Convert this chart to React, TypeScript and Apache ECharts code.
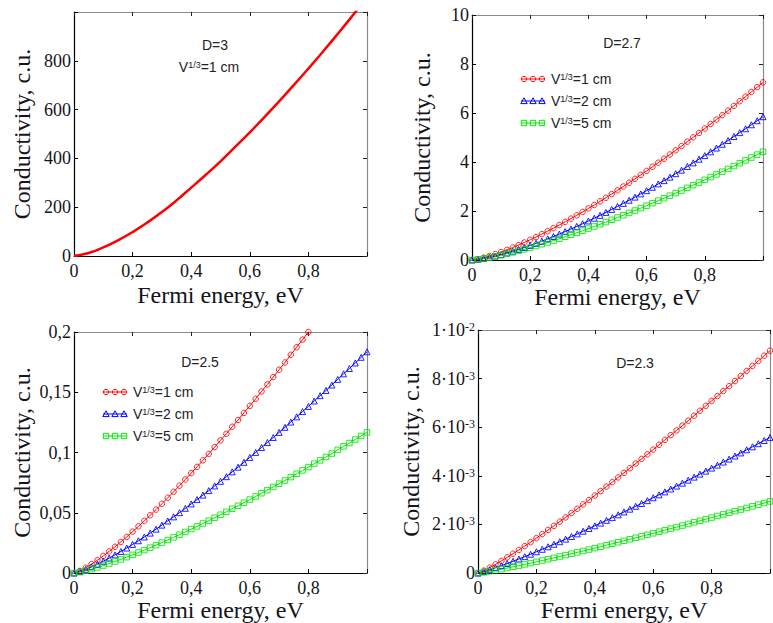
import React, { useEffect, useRef } from 'react';
import * as echarts from 'echarts';

// ---------- data ----------
const ENERGY = [0, 0.02, 0.04, 0.06, 0.08, 0.1, 0.12, 0.14, 0.16, 0.18, 0.2, 0.22, 0.24, 0.26, 0.28, 0.3, 0.32, 0.34, 0.36, 0.38, 0.4, 0.42, 0.44, 0.46, 0.48, 0.5, 0.52, 0.54, 0.56, 0.58, 0.6, 0.62, 0.64, 0.66, 0.68, 0.7, 0.72, 0.74, 0.76, 0.78, 0.8, 0.82, 0.84, 0.86, 0.88, 0.9, 0.92, 0.94, 0.96, 0.98, 1];
const ENERGY_D3 = [0, 0.05, 0.1, 0.15, 0.2, 0.25, 0.3, 0.35, 0.4, 0.45, 0.5, 0.55, 0.6, 0.65, 0.7, 0.75, 0.8, 0.85, 0.9, 0.95, 1];

const D3_V1 = [0, 12, 35, 64, 98, 137, 180, 228, 280, 333, 388, 447, 507, 569, 634, 700, 768, 838, 910, 984, 1060];

const D27_V1 = [0, 0.037, 0.094, 0.163, 0.24, 0.324, 0.414, 0.51, 0.61, 0.716, 0.826, 0.939, 1.056, 1.177, 1.3, 1.428, 1.557, 1.689, 1.824, 1.963, 2.105, 2.246, 2.394, 2.54, 2.691, 2.843, 2.999, 3.155, 3.314, 3.473, 3.637, 3.804, 3.971, 4.133, 4.306, 4.477, 4.651, 4.831, 5.008, 5.186, 5.366, 5.551, 5.732, 5.912, 6.098, 6.29, 6.482, 6.668, 6.86, 7.055, 7.25];
const D27_V2 = [0, 0.023, 0.061, 0.108, 0.162, 0.222, 0.288, 0.359, 0.433, 0.512, 0.596, 0.682, 0.771, 0.864, 0.959, 1.058, 1.161, 1.264, 1.371, 1.48, 1.593, 1.705, 1.823, 1.941, 2.064, 2.187, 2.31, 2.439, 2.566, 2.698, 2.831, 2.967, 3.106, 3.24, 3.382, 3.524, 3.667, 3.817, 3.965, 4.114, 4.261, 4.417, 4.569, 4.723, 4.877, 5.04, 5.199, 5.357, 5.52, 5.686, 5.85];
const D27_V5 = [0, 0.023, 0.057, 0.099, 0.146, 0.197, 0.253, 0.311, 0.372, 0.437, 0.503, 0.572, 0.644, 0.717, 0.792, 0.87, 0.949, 1.03, 1.112, 1.196, 1.283, 1.369, 1.459, 1.548, 1.641, 1.734, 1.828, 1.924, 2.02, 2.117, 2.217, 2.319, 2.421, 2.52, 2.625, 2.729, 2.835, 2.945, 3.053, 3.162, 3.271, 3.384, 3.494, 3.605, 3.718, 3.835, 3.951, 4.065, 4.182, 4.301, 4.42];

const D25_V1 = [0, 0.00185, 0.00445, 0.00745, 0.01074, 0.01425, 0.01798, 0.02185, 0.02587, 0.03004, 0.0344, 0.0388, 0.04334, 0.04796, 0.05268, 0.05754, 0.06245, 0.06744, 0.07248, 0.07766, 0.08294, 0.08817, 0.09353, 0.09891, 0.1045, 0.1101, 0.1156, 0.1214, 0.127, 0.1329, 0.1387, 0.1446, 0.1507, 0.1565, 0.1626, 0.1687, 0.1747, 0.1811, 0.1874, 0.1937, 0.2, 0.2065, 0.2128, 0.219, 0.2255, 0.2324, 0.2389, 0.2453, 0.2519, 0.2587, 0.2654];
const D25_V2 = [0, 0.00128, 0.00308, 0.00516, 0.00743, 0.00986, 0.01244, 0.01511, 0.0179, 0.02078, 0.02379, 0.02684, 0.02998, 0.03318, 0.03644, 0.0398, 0.0432, 0.04665, 0.05014, 0.05372, 0.05738, 0.06099, 0.0647, 0.06843, 0.0723, 0.07616, 0.07998, 0.084, 0.08787, 0.09191, 0.09595, 0.1001, 0.1042, 0.1083, 0.1125, 0.1167, 0.1209, 0.1253, 0.1296, 0.134, 0.1383, 0.1428, 0.1472, 0.1515, 0.156, 0.1607, 0.1653, 0.1697, 0.1743, 0.179, 0.1836];
const D25_V5 = [0, 0.00081, 0.00196, 0.00328, 0.00472, 0.00626, 0.0079, 0.00961, 0.01137, 0.01321, 0.01512, 0.01706, 0.01906, 0.02109, 0.02316, 0.0253, 0.02746, 0.02965, 0.03187, 0.03415, 0.03647, 0.03877, 0.04113, 0.04349, 0.04596, 0.04841, 0.05083, 0.05339, 0.05585, 0.05842, 0.06099, 0.0636, 0.06626, 0.06883, 0.07149, 0.07419, 0.07684, 0.07965, 0.0824, 0.08517, 0.08793, 0.09079, 0.09356, 0.09631, 0.09915, 0.1022, 0.1051, 0.1079, 0.1108, 0.1138, 0.1167];

// D=2.3 values in units of 1e-3 c.u.
const D23_UNIT = 1e-3;
const D23_V1 = [0, 0.102, 0.226, 0.36, 0.501, 0.648, 0.799, 0.953, 1.111, 1.273, 1.438, 1.606, 1.775, 1.944, 2.117, 2.291, 2.469, 2.645, 2.826, 3.006, 3.192, 3.373, 3.56, 3.742, 3.935, 4.124, 4.313, 4.507, 4.696, 4.888, 5.082, 5.279, 5.478, 5.673, 5.87, 6.067, 6.27, 6.474, 6.678, 6.881, 7.083, 7.284, 7.491, 7.689, 7.899, 8.107, 8.316, 8.521, 8.728, 8.942, 9.15];
const D23_V2 = [0, 0.062, 0.138, 0.22, 0.306, 0.395, 0.487, 0.581, 0.677, 0.776, 0.877, 0.979, 1.083, 1.186, 1.291, 1.397, 1.506, 1.613, 1.723, 1.833, 1.947, 2.057, 2.171, 2.282, 2.399, 2.515, 2.63, 2.749, 2.864, 2.981, 3.099, 3.219, 3.341, 3.46, 3.58, 3.7, 3.823, 3.948, 4.072, 4.196, 4.32, 4.442, 4.568, 4.689, 4.817, 4.944, 5.072, 5.196, 5.323, 5.453, 5.58];
const D23_V5 = [0, 0.033, 0.073, 0.116, 0.162, 0.209, 0.258, 0.307, 0.358, 0.41, 0.464, 0.518, 0.572, 0.627, 0.683, 0.739, 0.796, 0.853, 0.911, 0.969, 1.029, 1.087, 1.148, 1.207, 1.269, 1.33, 1.391, 1.453, 1.514, 1.576, 1.638, 1.702, 1.766, 1.829, 1.892, 1.956, 2.021, 2.087, 2.153, 2.218, 2.284, 2.349, 2.415, 2.479, 2.547, 2.614, 2.681, 2.747, 2.814, 2.883, 2.95];

const PANEL_TITLES = ['D=3', 'D=2.7', 'D=2.5', 'D=2.3'];
const LEGEND_LABELS = ['V{s|1/3}=1 cm', 'V{s|1/3}=2 cm', 'V{s|1/3}=5 cm'];
const SERIES_NAMES = ['V1/3=1 cm', 'V1/3=2 cm', 'V1/3=5 cm'];
const X_TITLE = 'Fermi energy, eV';
const Y_TITLE = 'Conductivity, c.u.';

// ---------- styling ----------
const SERIF = '"Liberation Serif", "Times New Roman", serif';
const SANS = '"Liberation Sans", Arial, sans-serif';
const INK = '#141420';
const RED = '#ff0000';
const BLUE = '#0000ff';
const GREEN = '#00e600';
const COLORS = [RED, BLUE, GREEN];
const SYMBOLS = ['circle', 'triangle', 'rect'];

const GRIDS = [
  { left: 74, top: 12, width: 293, height: 244 },
  { left: 472, top: 15, width: 291, height: 245 },
  { left: 74, top: 332, width: 293, height: 244 },
  { left: 478, top: 330, width: 292, height: 245 },
];
const X_NAME_GAP = [27, 22, 18, 21];
const Y_NAME_GAP = [40, 38, 40, 55];

const fmtX = (v: number) => (v === 0 ? '0' : v >= 0.999 ? '' : v.toFixed(1).replace('.', ','));
const Y_AXES = [
  { max: 1000, interval: 200, formatter: (v: number) => (v >= 999 ? '' : String(v)) },
  { max: 10, interval: 2, formatter: (v: number) => String(Math.round(v)) },
  { max: 0.2, interval: 0.05, formatter: (v: number) => (v === 0 ? '0' : String(+v.toFixed(2)).replace('.', ',')) },
  {
    max: 0.01,
    interval: 0.002,
    formatter: (v: number) => {
      const m = Math.round(v * 1000);
      if (m === 0) return '0';
      if (m === 10) return '1·10{s|-2}';
      return m + '·10{s|-3}';
    },
  },
];

const pairs = (xs: number[], ys: number[], k = 1) => xs.map((x, i) => [x, ys[i] * k]);

function legendRow(x0: number, y: number, idx: number) {
  const color = COLORS[idx];
  const els: any[] = [
    { type: 'line', shape: { x1: x0, y1: y, x2: x0 + 24, y2: y }, style: { stroke: color, lineWidth: 1 } },
  ];
  [x0 + 3, x0 + 12, x0 + 21].forEach((cx) => {
    if (idx === 0) {
      els.push({ type: 'circle', shape: { cx, cy: y, r: 2.7 }, style: { fill: 'none', stroke: color, lineWidth: 1 } });
    } else if (idx === 1) {
      els.push({
        type: 'polygon',
        shape: { points: [[cx, y - 3.2], [cx - 3.2, y + 2.6], [cx + 3.2, y + 2.6]] },
        style: { fill: 'none', stroke: color, lineWidth: 1 },
      });
    } else {
      els.push({ type: 'rect', shape: { x: cx - 2.7, y: y - 2.7, width: 5.4, height: 5.4 }, style: { fill: 'none', stroke: color, lineWidth: 1 } });
    }
  });
  els.push({
    type: 'text',
    x: x0 + 30,
    y,
    style: {
      text: LEGEND_LABELS[idx],
      fontFamily: SANS,
      fontSize: 14,
      fill: '#222',
      verticalAlign: 'middle',
      align: 'left',
      rich: { s: { fontSize: 9, fontFamily: SANS, fill: '#222', verticalAlign: 'top', lineHeight: 10 } },
    },
  });
  return els;
}

function annotation(x: number, y: number, text: string) {
  return {
    type: 'text',
    x,
    y,
    style: {
      text,
      fontFamily: SANS,
      fontSize: 14,
      fill: '#222',
      align: 'center',
      verticalAlign: 'middle',
      rich: { s: { fontSize: 9, fontFamily: SANS, fill: '#222', verticalAlign: 'top', lineHeight: 10 } },
    },
  };
}

export default function App() {
  const ref = useRef<HTMLDivElement>(null);
  useEffect(() => {
    if (!ref.current) return;
    const chart = echarts.init(ref.current, undefined, { renderer: 'svg' });

    const xAxis: any[] = [];
    const yAxis: any[] = [];
    GRIDS.forEach((_, i) => {
      xAxis.push({
        type: 'value', gridIndex: i, position: 'bottom', min: 0, max: 1, interval: 0.2,
        name: X_TITLE, nameLocation: 'middle', nameGap: X_NAME_GAP[i],
        nameTextStyle: { fontFamily: SERIF, fontSize: 24, color: INK },
        axisLine: { show: true, onZero: false, lineStyle: { color: '#000', width: 1.2 } },
        axisTick: { show: true, inside: true, length: 4, lineStyle: { color: '#000' } },
        axisLabel: { show: true, margin: 6, fontFamily: SERIF, fontSize: 18, color: INK, formatter: fmtX, showMaxLabel: true, showMinLabel: true },
        splitLine: { show: false },
      });
      xAxis.push({
        type: 'value', gridIndex: i, position: 'top', min: 0, max: 1, interval: 0.2,
        axisLine: { show: true, onZero: false, lineStyle: { color: '#8a8a8a', width: 1.2 } },
        axisTick: { show: true, inside: true, length: 4, lineStyle: { color: '#222' } },
        axisLabel: { show: false },
        splitLine: { show: false },
      });
      const ya = Y_AXES[i];
      yAxis.push({
        type: 'value', gridIndex: i, position: 'left', min: 0, max: ya.max, interval: ya.interval,
        name: Y_TITLE, nameLocation: 'middle', nameGap: Y_NAME_GAP[i],
        nameTextStyle: { fontFamily: SERIF, fontSize: 24, color: INK },
        axisLine: { show: true, onZero: false, lineStyle: { color: '#000', width: 1.2 } },
        axisTick: { show: true, inside: true, length: 4, lineStyle: { color: '#000' } },
        axisLabel: {
          show: true, margin: 3, fontFamily: SERIF, fontSize: 18, color: INK, formatter: ya.formatter,
          showMaxLabel: true, showMinLabel: true,
          rich: { s: { fontFamily: SERIF, fontSize: 12, color: INK, verticalAlign: 'top', lineHeight: 12 } },
        },
        splitLine: { show: false },
      });
      yAxis.push({
        type: 'value', gridIndex: i, position: 'right', min: 0, max: ya.max, interval: ya.interval,
        axisLine: { show: true, onZero: false, lineStyle: { color: '#8a8a8a', width: 1.2 } },
        axisTick: { show: true, inside: true, length: 4, lineStyle: { color: '#222' } },
        axisLabel: { show: false },
        splitLine: { show: false },
      });
    });

    const markerSeries = (panel: number, idx: number, data: number[][]) => ({
      type: 'line',
      name: SERIES_NAMES[idx],
      xAxisIndex: panel * 2,
      yAxisIndex: panel * 2,
      data,
      symbol: SYMBOLS[idx],
      symbolSize: idx === 1 ? 6 : 5.5,
      showSymbol: true,
      showAllSymbol: true,
      clip: true,
      silent: true,
      lineStyle: { color: COLORS[idx], width: 1 },
      itemStyle: { color: 'rgba(255,255,255,0)', borderColor: COLORS[idx], borderWidth: 1, opacity: 0.85 },
      emphasis: { disabled: true },
    });

    const series: any[] = [
      {
        type: 'line', name: SERIES_NAMES[0], xAxisIndex: 0, yAxisIndex: 0,
        data: pairs(ENERGY_D3, D3_V1), smooth: true, showSymbol: false, clip: true, silent: true,
        lineStyle: { color: RED, width: 2.5 }, itemStyle: { color: RED }, emphasis: { disabled: true },
      },
      markerSeries(1, 0, pairs(ENERGY, D27_V1)),
      markerSeries(1, 1, pairs(ENERGY, D27_V2)),
      markerSeries(1, 2, pairs(ENERGY, D27_V5)),
      markerSeries(2, 0, pairs(ENERGY, D25_V1)),
      markerSeries(2, 1, pairs(ENERGY, D25_V2)),
      markerSeries(2, 2, pairs(ENERGY, D25_V5)),
      markerSeries(3, 0, pairs(ENERGY, D23_V1, D23_UNIT)),
      markerSeries(3, 1, pairs(ENERGY, D23_V2, D23_UNIT)),
      markerSeries(3, 2, pairs(ENERGY, D23_V5, D23_UNIT)),
    ];

    const graphic: any[] = [
      annotation(215, 45, PANEL_TITLES[0]),
      annotation(209, 67, 'V{s|1/3}=1 cm'),
      annotation(622, 43, PANEL_TITLES[1]),
      annotation(200, 362, PANEL_TITLES[2]),
      annotation(635, 363, PANEL_TITLES[3]),
      ...legendRow(521, 79, 0),
      ...legendRow(521, 101, 1),
      ...legendRow(521, 123, 2),
      ...legendRow(103, 392, 0),
      ...legendRow(103, 414, 1),
      ...legendRow(103, 436, 2),
    ];

    chart.setOption({
      animation: false,
      backgroundColor: '#ffffff',
      grid: GRIDS.map((g) => ({ ...g, containLabel: false })),
      xAxis,
      yAxis,
      series,
      graphic,
    });
    return () => chart.dispose();
  }, []);

  return (
    <div
      ref={ref}
      style={{ position: 'fixed', left: 0, top: 0, width: 773, height: 623, background: '#fff' }}
    />
  );
}
